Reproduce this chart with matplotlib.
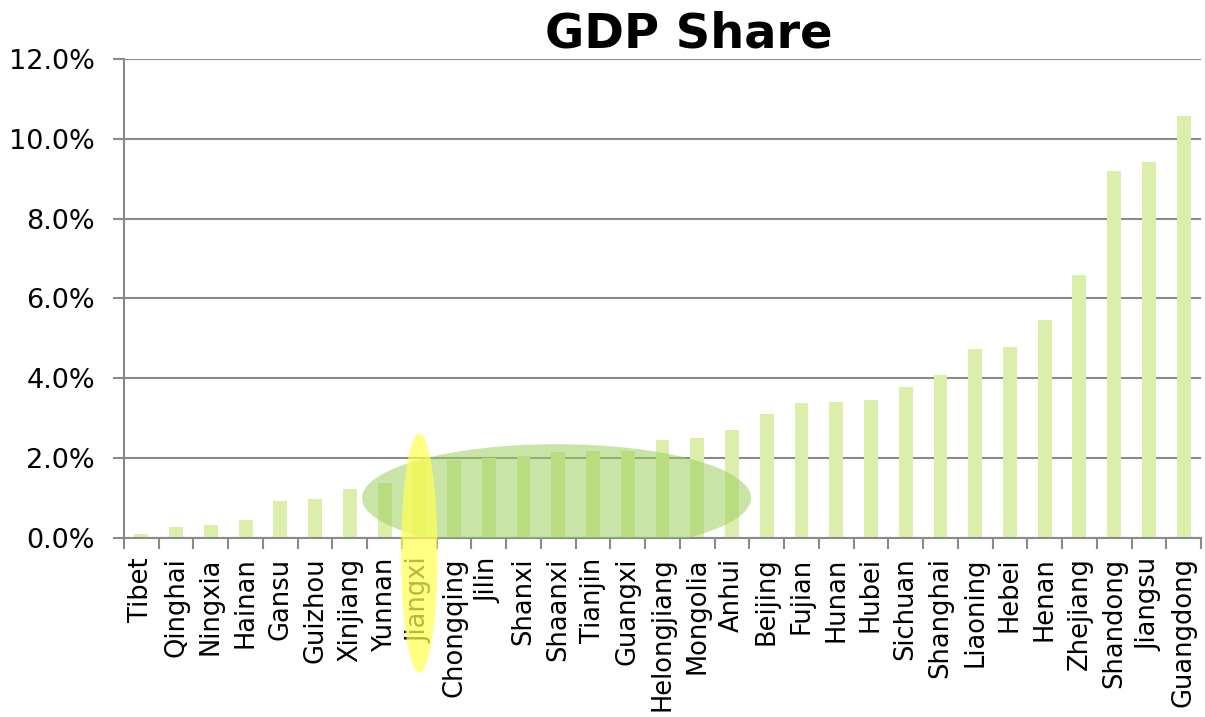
import matplotlib.pyplot as plt
from matplotlib.patches import Ellipse
from matplotlib.ticker import FuncFormatter
import numpy as np

# GDP share by province (%)
provinces = ["Tibet", "Qinghai", "Ningxia", "Hainan", "Gansu", "Guizhou", "Xinjiang",
             "Yunnan", "Jiangxi", "Chongqing", "Jilin", "Shanxi", "Shaanxi", "Tianjin",
             "Guangxi", "Helongjiang", "Mongolia", "Anhui", "Beijing", "Fujian", "Hunan",
             "Hubei", "Sichuan", "Shanghai", "Liaoning", "Hebei", "Henan", "Zhejiang",
             "Shandong", "Jiangsu", "Guangdong"]
share = [0.10, 0.28, 0.33, 0.45, 0.93, 0.98, 1.23, 1.38, 1.90, 1.95, 2.00, 2.05, 2.15,
         2.18, 2.18, 2.45, 2.50, 2.70, 3.10, 3.38, 3.40, 3.46, 3.78, 4.08, 4.73, 4.78,
         5.46, 6.60, 9.20, 9.42, 10.57]

grey = "#8a8a8a"

fig = plt.figure(figsize=(12.05, 7.17), dpi=100)
ax = fig.add_axes([0.1029, 0.2497, 0.8938, 0.668])

x = np.arange(len(provinces))
ax.bar(x, share, width=0.4, color="#dcefaa", zorder=2)

ax.set_xlim(-0.5, len(provinces) - 0.5)
ax.set_ylim(0, 12)
ax.set_yticks(np.arange(0, 12.1, 2))
ax.yaxis.set_major_formatter(FuncFormatter(lambda v, p: f"{v:.1f}%"))
ax.grid(axis="y", color=grey, linewidth=1.5, zorder=1)
ax.tick_params(axis="y", length=8, width=1.5, color=grey, labelsize=19.5, pad=13)

# labels at category centres, tick marks between categories
ax.set_xticks(x)
ax.set_xticklabels(provinces, rotation=90)
ax.set_xticks(np.arange(-0.5, len(provinces)), minor=True)
ax.tick_params(axis="x", which="major", length=0, labelsize=18.5, pad=14)
ax.tick_params(axis="x", which="minor", length=8, width=1.5, color=grey)

for s in ["top", "right"]:
    ax.spines[s].set_visible(False)
for s in ["left", "bottom"]:
    ax.spines[s].set_color(grey)
    ax.spines[s].set_linewidth(1.5)

# highlight shapes
ax.add_patch(Ellipse((11.95, 1.0), 11.2, 2.7, facecolor="#9ccf5e", alpha=0.55,
                     edgecolor="none", zorder=3))
ax.add_patch(Ellipse((8.0, -0.38), 1.05, 6.0, facecolor="#ffff55", alpha=0.72,
                     edgecolor="none", zorder=5, clip_on=False))

fig.text(689 / 1205, 0.953, "GDP Share", ha="center", va="center",
         fontsize=34.5, fontweight="bold")

fig.savefig("out.png", dpi=100)
